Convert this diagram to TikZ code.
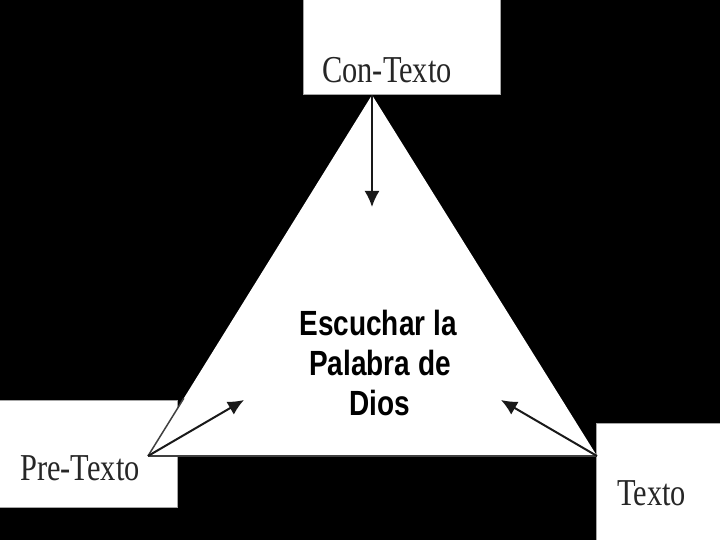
\documentclass[tikz,border=0pt]{standalone}
\usepackage{fontspec}
\usetikzlibrary{arrows.meta,calc}
\newfontfamily\serifn[FakeStretch=0.8]{Liberation Serif}
\newfontfamily\sansn[FakeStretch=0.8]{Liberation Sans}
\tikzset{
  box/.style={draw=gray!70, line width=1pt, fill=white, inner sep=0pt, outer sep=0pt, anchor=north west},
  lbl/.style={font=\serifn\fontsize{38}{40}\selectfont, text=black!85, inner sep=0pt, anchor=base west},
  ctr/.style={font=\sansn\bfseries\fontsize{35}{40}\selectfont, text=black, inner sep=0pt, anchor=base},
  arr/.style={draw=black!90, line width=2pt, -{Latex[length=16pt,width=15pt]}},
  edge/.style={draw=black!75, line width=1.5pt}
}
\begin{document}
\begin{tikzpicture}[x=1pt,y=-1pt]
\fill[black] (0,0) rectangle (720,540);
\useasboundingbox (0,0) rectangle (720,540);
% boxes
\node[box, minimum width=197pt, minimum height=97pt] (conbox) at (303,-2) {};
\node[box, minimum width=179pt, minimum height=107pt] (prebox) at (-2,400) {};
\node[box, minimum width=126pt, minimum height=120pt] (txtbox) at (596,423) {};
% triangle vertices
\coordinate (apex) at (372,95);
\coordinate (left) at (148,456);
\coordinate (right) at (597,456);
\fill[white] (apex) -- (left) -- (right) -- cycle;
\draw[edge] (left) -- (right);
\draw[edge] (left) -- ($(left)!0.16!(apex)$);
% labels
\node[lbl] (contxt) at (322,83) {Con-Texto};
\node[lbl] (pretxt) at (20,480) {Pre-Texto};
\node[lbl] (txt) at (617,505) {Texto};
% centre text
\node[ctr] (esc1) at (378,335) {Escuchar la};
\node[ctr] (esc2) at (380,375) {Palabra de};
\node[ctr] (esc3) at (380,415) {Dios};
% arrow tips
\coordinate (tipc) at (372,207);
\coordinate (tipl) at (244,400);
\coordinate (tipr) at (501,400);
\draw[arr] (apex) -- (tipc);
\draw[arr] (left) -- (tipl);
\draw[arr] (right) -- (tipr);
\end{tikzpicture}
\end{document}
